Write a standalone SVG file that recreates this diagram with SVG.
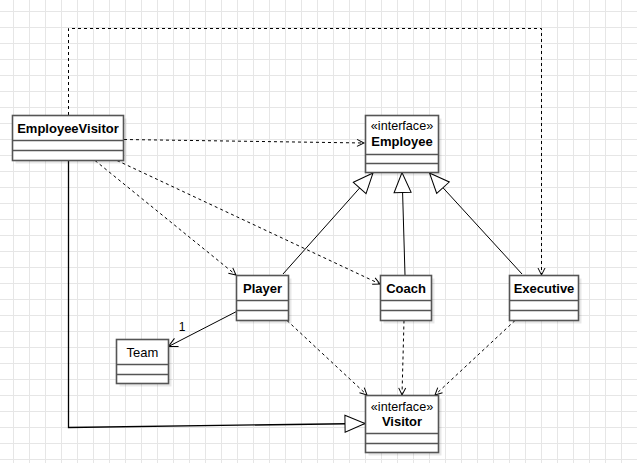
<svg xmlns="http://www.w3.org/2000/svg" width="637" height="463" viewBox="0 0 637 463">
<style>
.box{fill:#fff;stroke:#555;stroke-width:1.6}
.sh{fill:#000;fill-opacity:0.09}
.div{stroke:#555;stroke-width:1.6}
.name{font-family:"Liberation Sans",Arial,sans-serif;font-size:13px;font-weight:bold;fill:#000;text-anchor:middle}
.plain{font-family:"Liberation Sans",Arial,sans-serif;font-size:13px;fill:#000;text-anchor:middle}
.st{font-family:"Liberation Sans",Arial,sans-serif;font-size:12.6px;fill:#000;text-anchor:middle}
.dash{fill:none;stroke:#000;stroke-width:1;stroke-dasharray:3,3;marker-end:url(#open)}
.gen{fill:none;stroke:#000;stroke-width:1;marker-end:url(#tri)}
.assoc{fill:none;stroke:#000;stroke-width:1;marker-end:url(#open2)}
</style>
<defs>
<pattern id="grid" x="13" y="11" width="16" height="16" patternUnits="userSpaceOnUse">
<path d="M0.5,0 V16 M0,0.5 H16" stroke="#e6e6e6" stroke-width="1" fill="none"/>
</pattern>
<marker id="open" markerUnits="userSpaceOnUse" markerWidth="10" markerHeight="10" refX="7" refY="3.5" orient="auto" overflow="visible">
<path d="M0,0 L7,3.5 L0,7" fill="none" stroke="#000" stroke-width="1"/>
</marker>
<marker id="open2" markerUnits="userSpaceOnUse" markerWidth="12" markerHeight="12" refX="9" refY="4.5" orient="auto" overflow="visible">
<path d="M0,0 L9,4.5 L0,9" fill="none" stroke="#000" stroke-width="1"/>
</marker>
<marker id="tri" markerUnits="userSpaceOnUse" markerWidth="22" markerHeight="20" refX="20" refY="8.5" orient="auto" overflow="visible">
<path d="M0,0 L20,8.5 L0,17 Z" fill="#fff" stroke="#000" stroke-width="1"/>
</marker>
</defs>
<rect width="637" height="463" fill="#fff"/>
<rect width="637" height="463" fill="url(#grid)"/>

<g id="connectors">
<path class="dash" d="M68.5,115 V28.5 H541.5 V275"/>
<path class="dash" d="M124,139.5 L364,143"/>
<path class="dash" d="M95,160.5 L236,275"/>
<path class="dash" d="M117,160.5 L380,284"/>
<path class="gen" d="M68.5,160.5 V427.5 L365,423.5" stroke="#333" style="stroke-width:1.3"/>
<path class="gen" d="M283,274 L373,173"/>
<path class="gen" d="M405,275 L402,172.5"/>
<path class="gen" d="M522,274 L429.5,173"/>
<path class="assoc" d="M236.5,311.5 L168.5,346.5"/>
<text class="plain" x="182" y="331" style="font-size:12px">1</text>
<path class="dash" d="M287,320.5 L367,395"/>
<path class="dash" d="M404,320.5 L402,395"/>
<path class="dash" d="M515,320.5 L435,395"/>
</g>

<g id="EmployeeVisitor">
<rect class="sh" x="15.5" y="118.5" width="111" height="45"/>
<rect class="box" x="12.5" y="115.5" width="111" height="45"/>
<path class="div" d="M12.5,140.5 H123.5 M12.5,150.5 H123.5"/>
<text class="name" x="68" y="133.3">EmployeeVisitor</text>
</g>

<g id="Employee">
<rect class="sh" x="368.5" y="118.5" width="73" height="57"/>
<rect class="box" x="365.5" y="115.5" width="73" height="57"/>
<path class="div" d="M365.5,154.5 H438.5 M365.5,163.5 H438.5"/>
<text class="st" x="402" y="129.5">«interface»</text>
<text class="name" x="402" y="145.7">Employee</text>
</g>

<g id="Player">
<rect class="sh" x="239.5" y="278.5" width="52" height="45"/>
<rect class="box" x="236.5" y="275.5" width="52" height="45"/>
<path class="div" d="M236.5,300.5 H288.5 M236.5,310.5 H288.5"/>
<text class="name" x="262.5" y="293.3">Player</text>
</g>

<g id="Coach">
<rect class="sh" x="383.5" y="278.5" width="51" height="45"/>
<rect class="box" x="380.5" y="275.5" width="51" height="45"/>
<path class="div" d="M380.5,300.5 H431.5 M380.5,310.5 H431.5"/>
<text class="name" x="406" y="293.3">Coach</text>
</g>

<g id="Executive">
<rect class="sh" x="512.5" y="278.5" width="69" height="45"/>
<rect class="box" x="509.5" y="275.5" width="69" height="45"/>
<path class="div" d="M509.5,300.5 H578.5 M509.5,310.5 H578.5"/>
<text class="name" x="544" y="293.3">Executive</text>
</g>

<g id="Team">
<rect class="sh" x="119.5" y="342.5" width="52" height="44"/>
<rect class="box" x="116.5" y="339.5" width="52" height="44"/>
<path class="div" d="M116.5,364.5 H168.5 M116.5,374.5 H168.5"/>
<text class="plain" x="142.5" y="356.7">Team</text>
</g>

<g id="Visitor">
<rect class="sh" x="368.5" y="398.5" width="73" height="57"/>
<rect class="box" x="365.5" y="395.5" width="73" height="57"/>
<path class="div" d="M365.5,433.5 H438.5 M365.5,443.5 H438.5"/>
<text class="st" x="402" y="410.7">«interface»</text>
<text class="name" x="402" y="425.7">Visitor</text>
</g>
</svg>
